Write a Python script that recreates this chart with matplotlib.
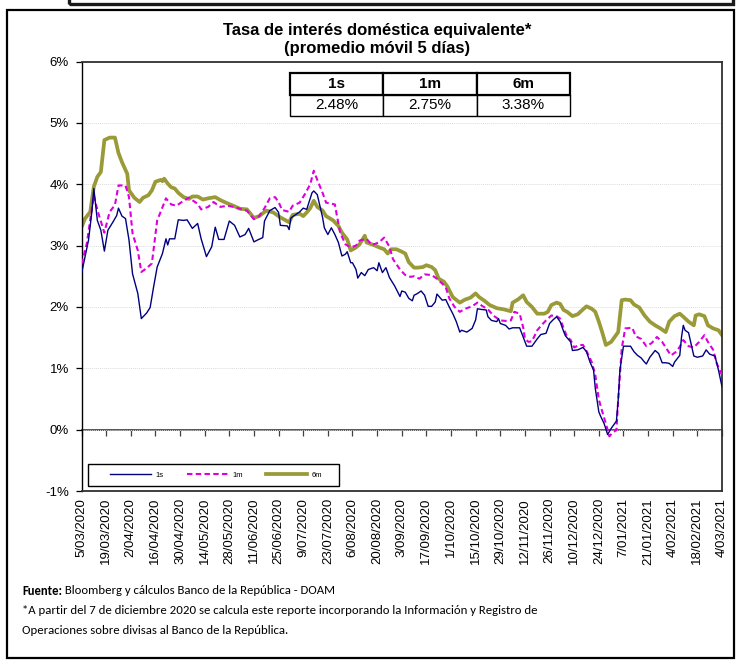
import numpy as np
import matplotlib
matplotlib.use("Agg")
import matplotlib.pyplot as plt
from matplotlib.patches import Rectangle
from matplotlib import font_manager

# ---------------------------------------------------------------- data
start_date = np.datetime64("2020-03-05")

s1_day = [0, 4, 6, 7, 9, 11, 13, 15, 18, 20, 21, 23, 25, 27, 29, 32, 34, 37, 39, 41,
          43, 46, 48, 49, 50, 53, 55, 58, 60, 63, 66, 68, 71, 74, 76, 78, 81, 84, 87, 90,
          93, 95, 98, 100, 103, 104, 107, 110, 112, 113, 117, 118, 119, 122, 124, 126, 128, 131, 132, 134,
          137, 138, 140, 142, 144, 146, 148, 150, 151, 153, 154, 156, 157, 159, 161, 163, 166, 168, 169, 171,
          173, 175, 178, 181, 182, 184, 186, 188, 189, 191, 193, 195, 197, 199, 201, 202, 205, 207, 209, 211,
          213, 215, 216, 219, 222, 224, 225, 227, 230, 231, 233, 236, 237, 238, 241, 243, 245, 249, 251, 253,
          256, 259, 261, 264, 266, 268, 270, 272, 274, 275, 278, 279, 282, 285, 287, 289, 291, 292, 294, 295,
          297, 299, 301, 304, 305, 306, 308, 312, 314, 316, 318, 320, 321, 323, 326, 328, 330, 332, 334, 336,
          337, 340, 341, 342, 343, 345, 348, 350, 353, 355, 357, 360, 362, 364]
s1_val = [2.54, 3.09, 3.58, 3.93, 3.41, 3.25, 2.91, 3.25, 3.39, 3.49, 3.61, 3.48, 3.44, 3.09, 2.54, 2.22, 1.81, 1.90, 1.99, 2.33,
          2.65, 2.87, 3.11, 3.01, 3.11, 3.11, 3.42, 3.41, 3.42, 3.28, 3.36, 3.11, 2.82, 2.98, 3.30, 3.10, 3.10, 3.40, 3.33, 3.14,
          3.18, 3.28, 3.06, 3.09, 3.13, 3.40, 3.57, 3.62, 3.54, 3.33, 3.32, 3.26, 3.45, 3.51, 3.55, 3.61, 3.59, 3.86, 3.89, 3.83,
          3.46, 3.29, 3.18, 3.29, 3.18, 3.05, 2.83, 2.86, 2.90, 2.72, 2.72, 2.61, 2.47, 2.56, 2.51, 2.61, 2.64, 2.59, 2.72, 2.56,
          2.64, 2.48, 2.34, 2.17, 2.26, 2.24, 2.14, 2.10, 2.19, 2.22, 2.26, 2.19, 2.01, 2.01, 2.08, 2.21, 2.11, 2.12, 2.00, 1.89,
          1.76, 1.59, 1.62, 1.59, 1.65, 1.79, 1.97, 1.96, 1.95, 1.84, 1.78, 1.76, 1.81, 1.73, 1.70, 1.64, 1.66, 1.66, 1.51, 1.36,
          1.36, 1.48, 1.55, 1.57, 1.73, 1.79, 1.84, 1.76, 1.60, 1.53, 1.43, 1.29, 1.30, 1.34, 1.27, 1.10, 0.97, 0.67, 0.29, 0.22,
          0.10, -0.08, 0.02, 0.14, 0.48, 0.97, 1.36, 1.36, 1.27, 1.21, 1.17, 1.10, 1.07, 1.18, 1.29, 1.24, 1.09, 1.09, 1.08, 1.03,
          1.10, 1.21, 1.51, 1.70, 1.62, 1.58, 1.20, 1.18, 1.20, 1.30, 1.23, 1.20, 0.97, 0.70]

m1_day = [0, 3, 7, 9, 13, 16, 19, 21, 25, 27, 29, 32, 34, 37, 40, 43, 45, 48, 51, 54,
          57, 61, 63, 66, 68, 72, 75, 79, 83, 88, 92, 94, 98, 101, 104, 107, 110, 112, 114, 118,
          120, 124, 127, 130, 132, 134, 137, 139, 144, 145, 147, 150, 153, 156, 158, 162, 165, 169, 172, 175,
          177, 181, 184, 187, 189, 192, 195, 199, 202, 205, 207, 209, 212, 215, 218, 222, 225, 228, 231, 234,
          238, 242, 244, 246, 249, 251, 252, 254, 256, 259, 262, 264, 267, 270, 272, 274, 276, 278, 280, 283,
          285, 287, 290, 292, 294, 296, 298, 300, 302, 304, 305, 307, 309, 313, 315, 318, 321, 324, 327, 330,
          332, 335, 338, 340, 342, 345, 348, 351, 354, 356, 359, 361, 364]
m1_val = [2.70, 3.03, 3.82, 3.58, 3.21, 3.55, 3.66, 3.98, 3.98, 3.79, 3.20, 2.92, 2.57, 2.63, 2.71, 3.41, 3.55, 3.77, 3.67, 3.65,
          3.71, 3.78, 3.74, 3.68, 3.59, 3.63, 3.71, 3.63, 3.65, 3.62, 3.58, 3.57, 3.43, 3.48, 3.61, 3.77, 3.79, 3.71, 3.58, 3.55,
          3.65, 3.70, 3.84, 4.00, 4.22, 4.07, 3.86, 3.70, 3.67, 3.51, 3.21, 3.02, 2.97, 3.00, 3.08, 3.11, 3.01, 3.05, 3.13, 2.98,
          2.78, 2.61, 2.52, 2.49, 2.50, 2.46, 2.53, 2.52, 2.46, 2.38, 2.32, 2.14, 2.00, 1.92, 1.97, 2.01, 2.07, 2.01, 1.96, 1.86,
          1.78, 1.77, 1.78, 1.92, 1.89, 1.67, 1.48, 1.43, 1.44, 1.62, 1.72, 1.78, 1.86, 1.85, 1.81, 1.65, 1.51, 1.46, 1.34, 1.38,
          1.38, 1.28, 1.10, 0.89, 0.49, 0.29, 0.10, -0.11, -0.04, -0.01, 0.48, 1.32, 1.65, 1.66, 1.52, 1.48, 1.36, 1.41, 1.51, 1.43,
          1.34, 1.21, 1.27, 1.35, 1.46, 1.36, 1.34, 1.43, 1.54, 1.43, 1.30, 1.08, 0.89]

m6_day = [0, 2, 5, 7, 9, 11, 13, 16, 19, 21, 23, 26, 27, 30, 33, 35, 38, 40, 42, 45,
          46, 47, 49, 51, 53, 55, 58, 61, 63, 66, 69, 72, 76, 79, 82, 87, 90, 94, 98, 101,
          105, 109, 113, 118, 120, 124, 126, 128, 130, 132, 134, 137, 139, 143, 146, 148, 151, 153, 156, 158,
          161, 162, 166, 170, 172, 174, 176, 179, 182, 184, 186, 189, 191, 194, 196, 199, 201, 203, 206, 208,
          211, 215, 218, 221, 224, 226, 229, 232, 236, 240, 244, 245, 248, 251, 253, 256, 259, 263, 265, 267,
          270, 272, 274, 276, 279, 282, 285, 287, 290, 292, 294, 296, 298, 301, 303, 305, 307, 309, 312, 314,
          317, 320, 323, 326, 329, 332, 334, 337, 340, 342, 345, 348, 349, 351, 354, 356, 359, 362, 364]
m6_val = [3.30, 3.44, 3.55, 3.96, 4.12, 4.20, 4.72, 4.76, 4.76, 4.51, 4.36, 4.17, 3.90, 3.78, 3.71, 3.78, 3.82, 3.90, 4.04, 4.07,
          4.05, 4.09, 4.01, 3.95, 3.93, 3.86, 3.79, 3.76, 3.80, 3.80, 3.75, 3.77, 3.79, 3.74, 3.70, 3.64, 3.60, 3.59, 3.45, 3.48,
          3.57, 3.54, 3.46, 3.38, 3.50, 3.52, 3.48, 3.54, 3.61, 3.73, 3.63, 3.57, 3.48, 3.41, 3.32, 3.21, 3.10, 2.92, 2.97, 3.02,
          3.16, 3.05, 3.01, 2.96, 2.94, 2.87, 2.94, 2.94, 2.90, 2.87, 2.73, 2.64, 2.64, 2.65, 2.68, 2.65, 2.60, 2.46, 2.41, 2.33,
          2.16, 2.07, 2.12, 2.15, 2.22, 2.16, 2.10, 2.03, 1.98, 1.96, 1.93, 2.07, 2.12, 2.19, 2.08, 2.00, 1.89, 1.89, 1.92, 2.03,
          2.07, 2.05, 1.95, 1.92, 1.85, 1.88, 1.96, 2.01, 1.97, 1.92, 1.76, 1.58, 1.38, 1.43, 1.51, 1.59, 2.11, 2.12, 2.11, 2.04,
          1.99, 1.86, 1.76, 1.70, 1.65, 1.59, 1.76, 1.85, 1.89, 1.84, 1.76, 1.70, 1.86, 1.88, 1.85, 1.70, 1.65, 1.62, 1.54]

series_names = ["1s", "1m", "6m"]
table_values = ["2.48%", "2.75%", "3.38%"]
tick_step_days = 14
last_day = 364

title_lines = ["Tasa de interés doméstica equivalente*", "(promedio móvil 5 días)"]
source_bold = "Fuente:"
source_text = " Bloomberg y cálculos Banco de la República - DOAM"
note_lines = ["*A partir del 7 de diciembre 2020 se calcula este reporte incorporando la Información y Registro de",
              "Operaciones sobre divisas al Banco de la República."]


# ---------------------------------------------------------------- fonts
def pick_font(*names):
    available = {f.name for f in font_manager.fontManager.ttflist}
    for n in names:
        if n in available:
            return n
    return "DejaVu Sans"


FONT = pick_font("Liberation Sans", "Arial")
NARROW = pick_font("Liberation Sans Narrow", "Liberation Sans")
NOTE_FONT = pick_font("Carlito", "Lato", "Liberation Sans")
plt.rcParams["font.family"] = [FONT, "DejaVu Sans"]

W, H = 739, 661
fig = plt.figure(figsize=(W / 100, H / 100), dpi=100)
fig.patch.set_facecolor("white")


def fx(px):
    return px / W


def fy(py):
    return 1 - py / H


# plot area
ax_l, ax_r, ax_t, ax_b = 81.5, 722, 61.5, 491
ax = fig.add_axes([fx(ax_l), fy(ax_b), fx(ax_r - ax_l), (ax_b - ax_t) / H])


def to_dates(days):
    return start_date + np.array(days, dtype="timedelta64[D]")


ax.plot(to_dates(s1_day), s1_val, color="#000080", lw=1.0, label=series_names[0], zorder=4)
ax.plot(to_dates(m1_day), m1_val, color="#DD00DD", lw=1.5, ls=(0, (2.6, 1.6)),
        label=series_names[1], zorder=3)
ax.plot(to_dates(m6_day), m6_val, color="#9A9A38", lw=2.7, label=series_names[2],
        zorder=2, solid_joinstyle="round")

ax.set_ylim(-1, 6)
ax.set_xlim(start_date, start_date + np.timedelta64(last_day, "D"))

# y axis
ax.set_yticks(np.arange(-1, 7, 1))
ax.yaxis.set_major_formatter(matplotlib.ticker.FuncFormatter(lambda v, p: f"{v:.0f}%"))
ax.tick_params(axis="y", direction="out", length=4, width=0.9, pad=5, labelsize=9.5,
               colors="black")
ax.yaxis.grid(True, color="#dcdcdc", lw=0.7, ls=(0, (1, 1)))
ax.set_axisbelow(True)

# x tick labels along the lower border
tick_dates = to_dates(np.arange(0, last_day + 1, tick_step_days))
ax.set_xticks(tick_dates)
ax.set_xticklabels([f"{d.astype(object).day}/{d.astype(object).month:02d}/{d.astype(object).year}"
                    for d in tick_dates], rotation=90, va="top", ha="center")
ax.tick_params(axis="x", length=0, pad=5, labelsize=9.5)

# horizontal axis crossing at 0 %
zero_axis = ax.secondary_xaxis(1 / 7)
zero_axis.set_xticks(tick_dates)
zero_axis.set_xticklabels([])
zero_axis.tick_params(axis="x", direction="out", length=4, width=0.9, colors="#404040")
zero_axis.spines["bottom"].set_color("#555555")
zero_axis.spines["bottom"].set_linewidth(1.4)

for side in ["top", "right", "bottom"]:
    ax.spines[side].set_color("#303030")
    ax.spines[side].set_linewidth(1.3)
ax.spines["left"].set_color("black")
ax.spines["left"].set_linewidth(1.0)

# legend in the lower strip: framed box with the entries centred inside
leg_box = (0.0101, 0.0123, 0.392, 0.0497)
ax.add_patch(Rectangle(leg_box[:2], leg_box[2], leg_box[3], transform=ax.transAxes,
                       facecolor="white", edgecolor="black", lw=1.0, zorder=5))
leg = ax.legend(loc="center", bbox_to_anchor=(leg_box[0] + leg_box[2] / 2 + 0.004,
                                              leg_box[1] + leg_box[3] / 2),
                ncol=3, fontsize=5.5, handlelength=5.3, handletextpad=0.6,
                columnspacing=3.1, frameon=False, borderaxespad=0, borderpad=0)
leg.set_zorder(6)

# summary table
tbl = ax.table(cellText=[table_values], colLabels=series_names, cellLoc="center",
               bbox=[0.3255, 0.8731, 0.437, 0.1001], zorder=6)
tbl.auto_set_font_size(False)
for (r, c), cell in tbl.get_celld().items():
    cell.set_facecolor("white")
    cell.get_text().set_fontfamily(NARROW)
    cell.get_text().set_fontsize(11)
    if r == 0:
        cell.get_text().set_fontweight("bold")
        cell.set_linewidth(1.6)
    else:
        cell.set_linewidth(1.0)

# title
for i, line in enumerate(title_lines):
    fig.text(fx(377), fy(31 + 18 * i), line, ha="center", va="center", fontsize=12,
             fontweight="bold", fontfamily=NARROW)

# outer frames
fig.add_artist(Rectangle((fx(7), fy(658)), fx(734 - 7), (658 - 10) / H, transform=fig.transFigure,
                         fill=False, lw=1.6, edgecolor="black"))
fig.add_artist(Rectangle((fx(69), fy(4)), fx(733 - 69), 30 / H, transform=fig.transFigure,
                         fill=False, lw=2.4, edgecolor="#1a1a1a", clip_on=False))

# source and note
NOTE_SIZE = 9.2
renderer = fig.canvas.get_renderer()
t_bold = fig.text(fx(22), fy(591), source_bold, ha="left", va="center", fontsize=NOTE_SIZE,
                  fontweight="bold", fontfamily=NOTE_FONT)
bb = t_bold.get_window_extent(renderer)
fig.text(bb.x1 / W, fy(591), source_text, ha="left", va="center", fontsize=NOTE_SIZE,
         fontfamily=NOTE_FONT)
for i, line in enumerate(note_lines):
    fig.text(fx(22), fy(611 + 19.5 * i), line, ha="left", va="center", fontsize=NOTE_SIZE,
             fontfamily=NOTE_FONT)

fig.savefig("out.png", dpi=100, facecolor="white")
